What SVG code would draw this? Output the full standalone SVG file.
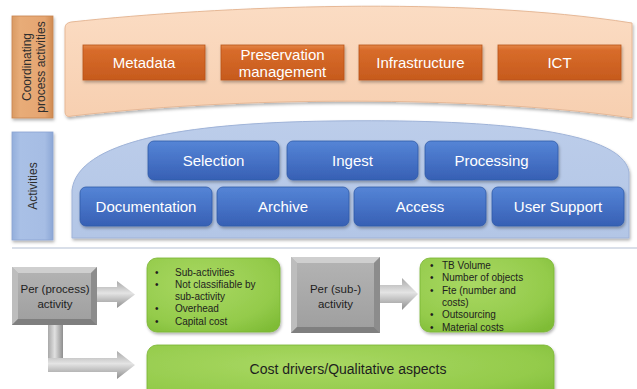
<svg xmlns="http://www.w3.org/2000/svg" width="637" height="389" viewBox="0 0 637 389">
<style>
text{font-family:"Liberation Sans",Arial,sans-serif}
.w{fill:#fff;font-size:15px;text-anchor:middle}
.lbl{fill:#2e2e2e;font-size:12px;text-anchor:middle}
.g{fill:#1e1e1e;font-size:11.5px;text-anchor:middle}
.b{fill:#1e1e1e;font-size:10px}
.ob{fill:url(#orangeBox);stroke:#b85418;stroke-width:0.8}
.bb{fill:url(#blueBox);stroke:#2f5aa8;stroke-width:0.8}
.gr{fill:url(#greenG);stroke:#7ab534;stroke-width:0.8}
</style>
<defs>
<linearGradient id="orangeBox" x1="0" y1="0" x2="0" y2="1">
<stop offset="0" stop-color="#e3874a"/><stop offset="0.15" stop-color="#d86c2a"/><stop offset="1" stop-color="#c65a1d"/>
</linearGradient>
<linearGradient id="orangeLbl" x1="0" y1="0" x2="1" y2="0">
<stop offset="0" stop-color="#d99a63"/><stop offset="0.2" stop-color="#e8ac78"/><stop offset="0.8" stop-color="#e5a571"/><stop offset="1" stop-color="#cf8a50"/>
</linearGradient>
<linearGradient id="blueLbl" x1="0" y1="0" x2="1" y2="0">
<stop offset="0" stop-color="#93aedb"/><stop offset="0.2" stop-color="#a9c0e6"/><stop offset="0.8" stop-color="#a6bde4"/><stop offset="1" stop-color="#8ca7d6"/>
</linearGradient>
<linearGradient id="peach" x1="0" y1="0" x2="0" y2="1">
<stop offset="0" stop-color="#fbdcc3"/><stop offset="1" stop-color="#f7cfb0"/>
</linearGradient>
<linearGradient id="lightBlue" x1="0" y1="0" x2="0" y2="1">
<stop offset="0" stop-color="#bccdea"/><stop offset="1" stop-color="#b3c6e6"/>
</linearGradient>
<linearGradient id="blueBox" x1="0" y1="0" x2="0" y2="1">
<stop offset="0" stop-color="#5585d6"/><stop offset="0.5" stop-color="#4672c6"/><stop offset="1" stop-color="#3760b4"/>
</linearGradient>
<radialGradient id="greenG" cx="0.4" cy="0.35" r="0.8">
<stop offset="0" stop-color="#a9d863"/><stop offset="0.7" stop-color="#94cb4b"/><stop offset="1" stop-color="#7fbc36"/>
</radialGradient>
<linearGradient id="grayC" x1="0" y1="0" x2="0" y2="1">
<stop offset="0" stop-color="#b4b4b4"/><stop offset="1" stop-color="#9e9e9e"/>
</linearGradient>
<linearGradient id="arrowH" x1="0" y1="0" x2="0" y2="1">
<stop offset="0" stop-color="#a8a8a8"/><stop offset="0.45" stop-color="#e4e4e4"/><stop offset="1" stop-color="#8e8e8e"/>
</linearGradient>
<linearGradient id="arrowV" x1="0" y1="0" x2="1" y2="0">
<stop offset="0" stop-color="#a8a8a8"/><stop offset="0.45" stop-color="#e0e0e0"/><stop offset="1" stop-color="#8e8e8e"/>
</linearGradient>
<filter id="sh" x="-10%" y="-10%" width="130%" height="140%">
<feDropShadow dx="1" dy="2" stdDeviation="1.5" flood-color="#000" flood-opacity="0.3"/>
</filter>
</defs>

<rect width="637" height="389" fill="#fff"/>

<!-- banners -->
<g id="coord-banner">
<path d="M65,28 Q65,23 71,22 C220,6 460,-4 632,23 L632,118 C500,98 260,94 72,116 Q65,118 65,112 Z" fill="url(#peach)" stroke="#e6b896" stroke-width="1" filter="url(#sh)"/>
</g>
<g id="activities-banner">
<path d="M72,238 L72,190 C78,142 180,123 330,121 C480,119 622,128 629,172 L629,238 Z" fill="url(#lightBlue)" stroke="#9fb3d8" stroke-width="1" filter="url(#sh)"/>
</g>

<!-- side labels -->
<g id="label-coordinating">
<rect x="12" y="16" width="41" height="102" fill="url(#orangeLbl)" stroke="#c98450" stroke-width="0.8" filter="url(#sh)"/>
<text class="lbl" transform="translate(27,67) rotate(-90)" y="4">Coordinating</text>
<text class="lbl" transform="translate(41,67) rotate(-90)" y="4">process activities</text>
</g>
<g id="label-activities">
<rect x="12" y="132" width="41" height="108" fill="url(#blueLbl)" stroke="#8aa4d2" stroke-width="0.8" filter="url(#sh)"/>
<text class="lbl" transform="translate(33,186) rotate(-90)" y="4">Activities</text>
</g>

<!-- orange boxes -->
<g id="metadata"><rect class="ob" x="83" y="45" width="122" height="35" filter="url(#sh)"/><text class="w" x="144" y="68">Metadata</text></g>
<g id="preservation"><rect class="ob" x="221" y="45" width="123" height="35" filter="url(#sh)"/><text class="w" x="282.5" y="60">Preservation</text><text class="w" x="282.5" y="77">management</text></g>
<g id="infrastructure"><rect class="ob" x="359" y="45" width="123" height="35" filter="url(#sh)"/><text class="w" x="420.5" y="68">Infrastructure</text></g>
<g id="ict"><rect class="ob" x="498" y="45" width="123" height="35" filter="url(#sh)"/><text class="w" x="559.5" y="68">ICT</text></g>

<!-- blue boxes -->
<g id="selection"><rect class="bb" x="148" y="141" width="131" height="39" rx="6" filter="url(#sh)"/><text class="w" x="213.5" y="166">Selection</text></g>
<g id="ingest"><rect class="bb" x="287" y="141" width="131" height="39" rx="6" filter="url(#sh)"/><text class="w" x="352.5" y="166">Ingest</text></g>
<g id="processing"><rect class="bb" x="425" y="141" width="133" height="39" rx="6" filter="url(#sh)"/><text class="w" x="491.5" y="166">Processing</text></g>
<g id="documentation"><rect class="bb" x="80" y="187" width="132" height="39" rx="6" filter="url(#sh)"/><text class="w" x="146" y="212">Documentation</text></g>
<g id="archive"><rect class="bb" x="217" y="187" width="132" height="39" rx="6" filter="url(#sh)"/><text class="w" x="283" y="212">Archive</text></g>
<g id="access"><rect class="bb" x="354" y="187" width="132" height="39" rx="6" filter="url(#sh)"/><text class="w" x="420" y="212">Access</text></g>
<g id="user-support"><rect class="bb" x="492" y="187" width="132" height="39" rx="6" filter="url(#sh)"/><text class="w" x="558" y="212">User Support</text></g>

<!-- separator -->
<line x1="12" y1="248" x2="637" y2="248" stroke="#ccd5e2" stroke-width="1.5"/>

<!-- connectors -->
<g id="connectors">
<path d="M97,287 L117,287 L117,281 L135,294.5 L117,308 L117,302 L97,302 Z" fill="url(#arrowH)"/>
<rect x="48" y="322" width="15" height="42" fill="url(#arrowV)"/>
<path d="M48,358 L117,358 L117,351 L135,365 L117,379 L117,372 L48,372 Z" fill="url(#arrowH)"/>
<path d="M380,285 L402,285 L402,278 L418,294 L402,310 L402,303 L380,303 Z" fill="url(#arrowH)"/>
</g>

<!-- gray boxes -->
<g id="per-process-activity">
<rect x="12" y="267" width="85" height="58" fill="url(#grayC)"/>
<polygon points="12,267 97,267 91,273 18,273" fill="#cfcfcf"/>
<polygon points="12,267 18,273 18,319 12,325" fill="#bdbdbd"/>
<polygon points="97,267 97,325 91,319 91,273" fill="#8c8c8c"/>
<polygon points="12,325 97,325 91,319 18,319" fill="#7f7f7f"/>
<text class="g" x="55" y="293">Per (process)</text>
<text class="g" x="55" y="308">activity</text>
</g>
<g id="per-sub-activity">
<rect x="291" y="257" width="89" height="76" fill="url(#grayC)"/>
<polygon points="291,257 380,257 374,263 297,263" fill="#cfcfcf"/>
<polygon points="291,257 297,263 297,327 291,333" fill="#bdbdbd"/>
<polygon points="380,257 380,333 374,327 374,263" fill="#8c8c8c"/>
<polygon points="291,333 380,333 374,327 297,327" fill="#7f7f7f"/>
<text class="g" x="335.5" y="293">Per (sub-)</text>
<text class="g" x="335.5" y="308">activity</text>
</g>

<!-- green boxes -->
<g id="sub-activities-list">
<rect class="gr" x="147" y="258" width="133" height="74" rx="10" filter="url(#sh)"/>
<g class="b">
<text x="155" y="276">•</text><text x="175" y="276">Sub-activities</text>
<text x="155" y="288">•</text><text x="175" y="288">Not classifiable by</text>
<text x="175" y="300">sub-activity</text>
<text x="155" y="312">•</text><text x="175" y="312">Overhead</text>
<text x="155" y="325">•</text><text x="175" y="325">Capital cost</text>
</g>
</g>
<g id="cost-items-list">
<rect class="gr" x="420" y="258" width="134" height="74" rx="10" filter="url(#sh)"/>
<g class="b">
<text x="430" y="269">•</text><text x="442" y="269">TB Volume</text>
<text x="430" y="281">•</text><text x="442" y="281">Number of objects</text>
<text x="430" y="294">•</text><text x="442" y="294">Fte (number and</text>
<text x="442" y="306">costs)</text>
<text x="430" y="318">•</text><text x="442" y="318">Outsourcing</text>
<text x="430" y="331">•</text><text x="442" y="331">Material costs</text>
</g>
</g>
<g id="cost-drivers">
<rect class="gr" x="147" y="345" width="407" height="56" rx="10" filter="url(#sh)"/>
<text x="348" y="374" fill="#1e1e1e" font-size="14" text-anchor="middle">Cost drivers/Qualitative  aspects</text>
</g>
</svg>
